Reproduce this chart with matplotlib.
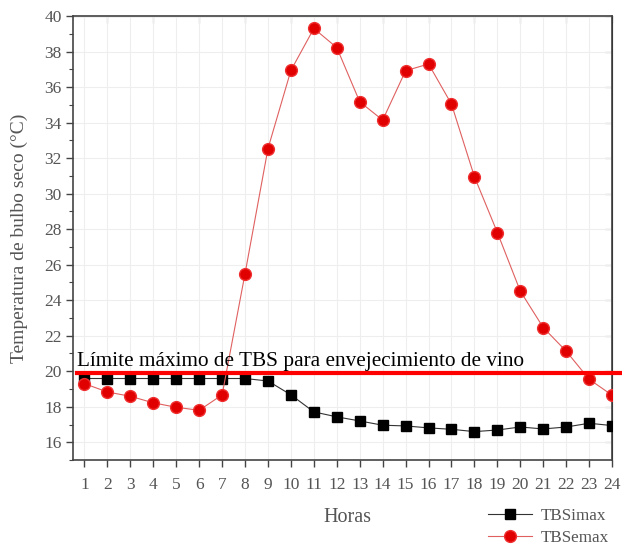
import matplotlib
matplotlib.use("Agg")
import matplotlib.pyplot as plt
from matplotlib.ticker import MultipleLocator

horas = list(range(1, 25))
tbs_imax = [19.59, 19.59, 19.59, 19.59, 19.59, 19.59, 19.59, 19.59, 19.45, 18.67,
            17.71, 17.43, 17.20, 16.96, 16.92, 16.81, 16.73, 16.60, 16.69, 16.86,
            16.75, 16.86, 17.07, 16.94]
tbs_emax = [19.30, 18.83, 18.59, 18.22, 17.97, 17.80, 18.67, 25.50, 32.54, 36.94,
            39.30, 38.22, 35.17, 34.14, 36.92, 37.30, 35.04, 30.95, 27.81, 24.51,
            22.46, 21.13, 19.55, 18.65]
limite = 19.9
limite_texto = "Límite máximo de TBS para envejecimiento de vino"
y_ticks = list(range(16, 41, 2))

plt.rcParams['font.family'] = ['Liberation Serif', 'DejaVu Serif']

fig = plt.figure(figsize=(6.22, 5.47), dpi=100)
ax = fig.add_axes([0.1174, 0.159, 0.8666, 0.8117])

ax.plot(horas, tbs_imax, color='#333333', lw=0.8, marker='s', ms=6.5,
        markerfacecolor='black', markeredgecolor='black', label='TBSimax', zorder=3)
ax.plot(horas, tbs_emax, color='#e06060', lw=0.8, marker='o', ms=8.5,
        markerfacecolor='#e00000', markeredgecolor='#f03030', label='TBSemax', zorder=3)

ax.set_xlim(0.5, 24)
ax.set_ylim(15, 40)
ax.set_xticks(horas)
ax.set_yticks(y_ticks)
ax.yaxis.set_minor_locator(MultipleLocator(1))
ax.grid(True, color='#eeeeee', lw=0.8)
ax.set_axisbelow(True)

ax.tick_params(axis='both', which='major', direction='out', length=5, width=1,
               labelsize=12.5, colors='#444444', labelcolor='#555555')
ax.tick_params(axis='x', which='major', pad=7)
ax.tick_params(axis='y', which='major', pad=3)
ax.tick_params(axis='y', which='minor', direction='out', length=3, width=0.8, colors='#444444')
for s in ax.spines.values():
    s.set_color('#444444')
    s.set_linewidth(1.2)

# top and right inward ticks
axt = ax.secondary_xaxis('top')
axt.set_xticks(range(2, 25, 2))
axt.tick_params(direction='in', length=5, labeltop=False, colors='#444444')
axt.set_xticklabels([])
axr = ax.secondary_yaxis('right')
axr.set_yticks(y_ticks)
axr.tick_params(direction='in', length=5, colors='#444444')
axr.set_yticklabels([])

ax.set_xlabel('Horas', fontsize=14.5, color='#555555')
ax.xaxis.set_label_coords(0.51, -0.108)
ax.set_ylabel('Temperatura de bulbo seco (°C)', fontsize=14, color='#555555')
ax.yaxis.set_label_coords(-0.083, 0.5)

# limit line extending beyond axes
ax.plot([0.66, 24.5], [limite, limite], color='red', lw=3, clip_on=False, zorder=4)
ax.text(0.66, limite + 0.12, limite_texto, fontsize=15.3, color='black',
        ha='left', va='bottom', zorder=5)

fig.legend(loc='lower right', bbox_to_anchor=(0.985, -0.004), frameon=False,
           fontsize=12.3, labelcolor='#555555', handlelength=2.6, borderaxespad=0.0,
           borderpad=0.2, labelspacing=0.35, handletextpad=0.5)

fig.savefig('out.png', dpi=100)
